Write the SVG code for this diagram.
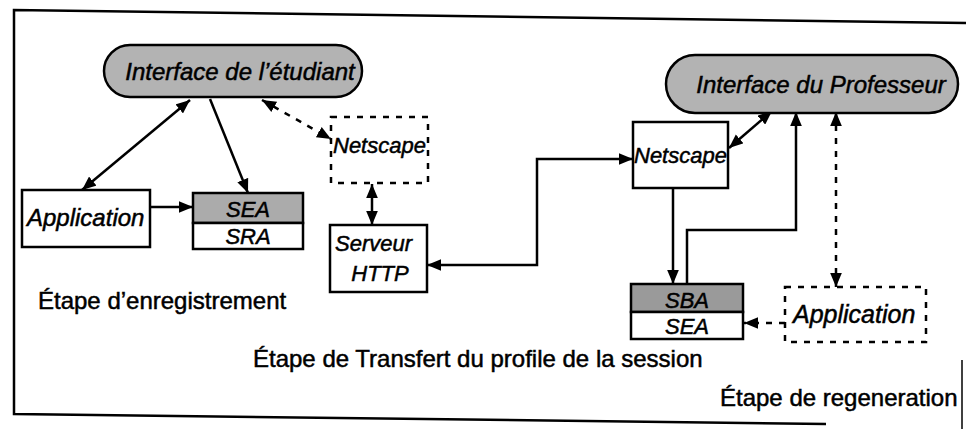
<svg xmlns="http://www.w3.org/2000/svg" width="966" height="429" viewBox="0 0 966 429">
  <defs>
    <marker id="ah" viewBox="0 0 12 10" refX="12" refY="5" markerWidth="14" markerHeight="12" markerUnits="userSpaceOnUse" orient="auto-start-reverse">
      <path d="M0,0 L12,5 L0,10 z" fill="#000"/>
    </marker>
  </defs>
  <style>
    .lbl { font-family: "Liberation Sans", Arial, sans-serif; font-style: italic; fill: #000; stroke: #000; stroke-width: 0.5; }
    .stage { font-family: "Liberation Sans", Arial, sans-serif; font-size: 24px; fill: #000; stroke: #000; stroke-width: 0.5; }
    .box { fill: #fff; stroke: #000; stroke-width: 2.5; }
    .dbox { fill: #fff; stroke: #000; stroke-width: 2.5; stroke-dasharray: 6 7; }
    .gray { fill: #ababab; stroke: #000; stroke-width: 2.5; }
    .pill { fill: #b3b3b3; stroke: #000; stroke-width: 2.5; }
    .c { fill: none; stroke: #000; stroke-width: 2.5; }
    .d { fill: none; stroke: #000; stroke-width: 2.5; stroke-dasharray: 6 7; }
  </style>

  <g id="frame" fill="none" stroke="#000" stroke-width="2.5">
    <polyline points="966,23 14,10 14,414 826,424"/>
    <line x1="962" y1="360" x2="962" y2="429" stroke-width="1.5"/>
  </g>

  <g id="connectors">
    <line class="c" x1="190" y1="100" x2="82" y2="190" marker-start="url(#ah)" marker-end="url(#ah)"/>
    <line class="c" x1="210" y1="99" x2="248" y2="193" marker-end="url(#ah)"/>
    <line class="c" x1="150" y1="207" x2="193" y2="207" marker-end="url(#ah)"/>
    <line class="d" x1="262" y1="100" x2="331" y2="139" marker-start="url(#ah)" marker-end="url(#ah)"/>
    <line class="c" x1="372" y1="184" x2="372" y2="225" marker-start="url(#ah)" marker-end="url(#ah)"/>
    <path class="c" d="M427,265 H537 V159 H633" marker-start="url(#ah)" marker-end="url(#ah)"/>
    <line class="c" x1="729" y1="148" x2="772" y2="111" marker-start="url(#ah)" marker-end="url(#ah)"/>
    <line class="c" x1="673" y1="188" x2="673" y2="284" marker-end="url(#ah)"/>
    <path class="c" d="M687,284 V230 H796 V112" marker-end="url(#ah)"/>
    <line class="d" x1="836" y1="112" x2="836" y2="287" marker-start="url(#ah)" marker-end="url(#ah)"/>
    <line class="d" x1="785" y1="323" x2="744" y2="323" marker-end="url(#ah)"/>
  </g>

  <g id="interface-etudiant">
    <rect class="pill" x="104" y="45" width="258" height="52" rx="26"/>
    <text class="lbl" x="240" y="80" font-size="24" text-anchor="middle">Interface de l’étudiant</text>
  </g>

  <g id="interface-professeur">
    <rect class="pill" x="666" y="55" width="292" height="58" rx="29"/>
    <text class="lbl" x="821" y="93" font-size="24" text-anchor="middle">Interface du Professeur</text>
  </g>

  <g id="application-etudiant">
    <rect class="box" x="22" y="190" width="128" height="57"/>
    <text class="lbl" x="27" y="226" font-size="24">Application</text>
  </g>

  <g id="sea-sra">
    <rect class="gray" x="193" y="193" width="110" height="30"/>
    <rect class="box" x="193" y="223" width="110" height="26"/>
    <text class="lbl" x="248" y="217" font-size="22" text-anchor="middle">SEA</text>
    <text class="lbl" x="248" y="244" font-size="22" text-anchor="middle">SRA</text>
  </g>

  <g id="netscape-etudiant">
    <rect class="dbox" x="331" y="117" width="97" height="66"/>
    <text class="lbl" x="333" y="153" font-size="22">Netscape</text>
  </g>

  <g id="serveur-http">
    <rect class="box" x="330" y="225" width="97" height="67"/>
    <text class="lbl" x="335" y="251" font-size="22">Serveur</text>
    <text class="lbl" x="380" y="281" font-size="22" text-anchor="middle">HTTP</text>
  </g>

  <g id="netscape-professeur">
    <rect class="box" x="633" y="122" width="95" height="66"/>
    <text class="lbl" x="634" y="163" font-size="22">Netscape</text>
  </g>

  <g id="sba-sea">
    <rect class="gray" x="631" y="284" width="112" height="28" style="fill:#9a9a9a"/>
    <rect class="box" x="631" y="312" width="112" height="27"/>
    <text class="lbl" x="687" y="308" font-size="22" text-anchor="middle">SBA</text>
    <text class="lbl" x="687" y="334" font-size="22" text-anchor="middle">SEA</text>
  </g>

  <g id="application-professeur">
    <rect class="dbox" x="785" y="287" width="141" height="55"/>
    <text class="lbl" x="793" y="323" font-size="25">Application</text>
  </g>

  <g id="stages">
    <text class="stage" x="38" y="309">Étape d’enregistrement</text>
    <text class="stage" x="253" y="367">Étape de Transfert du profile de la session</text>
    <text class="stage" x="720" y="406">Étape de regeneration</text>
  </g>
</svg>
